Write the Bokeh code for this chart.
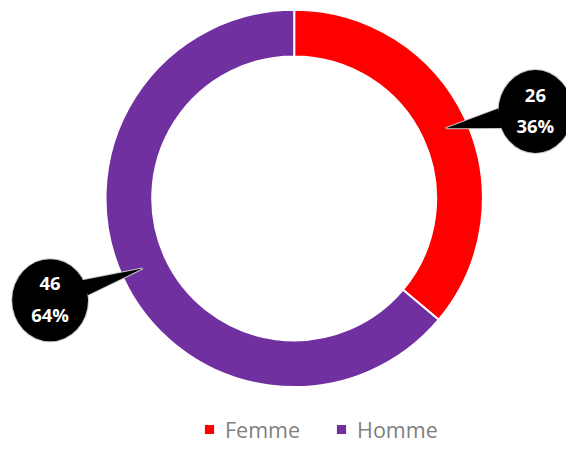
import numpy as np
from bokeh.plotting import figure
from bokeh.models import Range1d, Legend, LegendItem, ColumnDataSource
from bokeh.embed import file_html
from bokeh.resources import INLINE
from bokeh.core.properties import value

# ---- data ----
categories = ["Femme", "Homme"]
counts = [26, 46]
colors = ["#FF0000", "#7030A0"]

total = sum(counts)
fracs = [c / total for c in counts]
pct_labels = [f"{round(f * 100)}%" for f in fracs]
count_labels = [str(c) for c in counts]

# ---- figure: data units = reference pixels (582x461), y measured upward ----
W, H = 566, 445
p = figure(width=W, height=H, output_backend="svg", toolbar_location=None,
           x_range=Range1d(0, 582), y_range=Range1d(0, 461),
           x_axis_location=None, y_axis_location=None, min_border=0)
p.grid.visible = False
p.outline_line_color = None
p.background_fill_color = "white"

cx, cy = 302, 256
r_out, r_in = 194, 146

cum = np.concatenate([[0], np.cumsum(fracs)])
start = np.pi / 2 - 2 * np.pi * cum[:-1]
end = np.pi / 2 - 2 * np.pi * cum[1:]
mid = (start + end) / 2

src = ColumnDataSource(dict(cat=categories, start=start, end=end, color=colors))
wr = p.annular_wedge(x=cx, y=cy, inner_radius=r_in, outer_radius=r_out,
                     start_angle="start", end_angle="end", direction="clock",
                     fill_color="color", line_color="white", line_width=2, source=src)

# ---- callout bubbles ----
tip_r = 172
tips_x = cx + tip_r * np.cos(mid)
tips_y = cy + tip_r * np.sin(mid)
bubble_x = [550, 51]
bubble_y = [346, 150.5]
bubble_w = [76, 78]
bubble_h = [86, 85]
base_off = [[(-38, 3), (-35, -17)], [(32, 20.5), (39, 5.5)]]

tail_xs, tail_ys = [], []
for i in range(len(categories)):
    (ax, ay), (bx, by) = base_off[i]
    tail_xs.append([tips_x[i], bubble_x[i] + ax, bubble_x[i] + bx])
    tail_ys.append([tips_y[i], bubble_y[i] + ay, bubble_y[i] + by])

edge = "#C8C8C8"
p.patches(tail_xs, tail_ys, fill_color="black", line_color=edge, line_width=2)
p.ellipse(x=bubble_x, y=bubble_y, width=bubble_w, height=bubble_h,
          fill_color="black", line_color=edge, line_width=2)
p.patches(tail_xs, tail_ys, fill_color="black", line_color=None)
p.ellipse(x=bubble_x, y=bubble_y, width=bubble_w, height=bubble_h,
          fill_color="black", line_color=None)

lab_src = ColumnDataSource(dict(
    x=bubble_x, y1=[y + 17 for y in bubble_y], y2=[y - 14.5 for y in bubble_y],
    n=count_labels, pct=pct_labels))
for ycol, tcol in (("y1", "n"), ("y2", "pct")):
    p.text(x="x", y=ycol, text=tcol, source=lab_src, text_color="white",
           text_font=value("Open Sans"), text_font_style="bold",
           text_font_size="18.5px", text_align="center", text_baseline="middle")

# ---- legend ----
items = [LegendItem(label=categories[i], renderers=[wr], index=i)
         for i in range(len(categories))]
legend = Legend(items=items, location=(202, 0.5), orientation="horizontal",
                padding=0, margin=0, border_line_color=None,
                background_fill_alpha=0,
                label_text_font="Open Sans", label_text_font_size="21.5px",
                label_text_color="#7F7F7F", glyph_width=14, glyph_height=14,
                label_height=31, label_standoff=9, spacing=34)
p.add_layout(legend)

open("out.html", "w").write(file_html(p, INLINE))
